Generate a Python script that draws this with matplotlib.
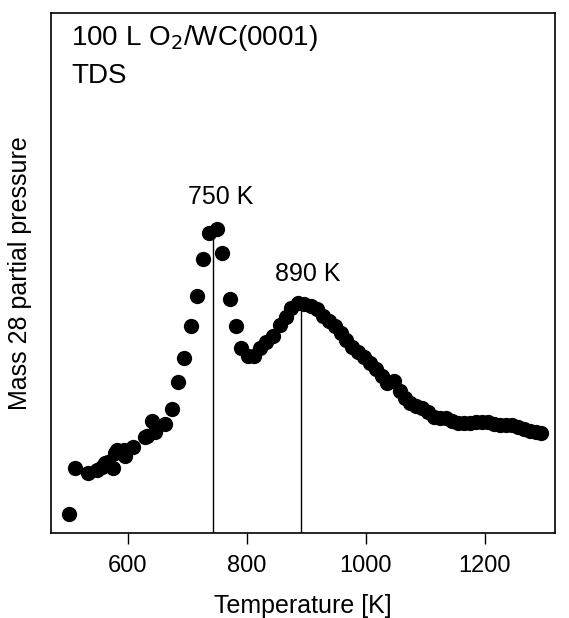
import matplotlib
matplotlib.use("Agg")
import matplotlib.pyplot as plt

plt.rcParams['font.family'] = ['Liberation Sans', 'DejaVu Sans']

# TDS spectrum (temperature in K, signal in arbitrary units)
temperature = [502, 511, 534, 548, 556, 562, 567, 576, 579, 582, 587, 593, 596,
               609, 629, 632, 640, 646, 663, 674, 684, 695, 706, 717, 727, 737,
               750, 759, 771, 782, 791, 802, 812, 822, 833, 844, 856, 866, 875,
               886, 897, 908, 918, 928, 938, 948, 958, 967, 977, 987, 997, 1007,
               1017, 1027, 1036, 1047, 1057, 1066, 1074, 1084, 1094, 1104, 1115,
               1125, 1135, 1145, 1155, 1165, 1175, 1185, 1195, 1205, 1215, 1226,
               1236, 1246, 1256, 1266, 1276, 1286, 1294]
signal = [19, 65, 60, 63, 66, 70, 71, 65, 80, 83, 81, 83, 77,
          86, 96, 97, 112, 101, 109, 124, 151, 175, 207, 237, 274, 300,
          304, 280, 234, 207, 185, 177, 177, 185, 191, 197, 208, 216, 225,
          230, 229, 227, 224, 217, 212, 207, 200, 193, 186, 181, 176, 170,
          164, 157, 150, 152, 142, 135, 130, 127, 125, 121, 116,
          115, 115, 112, 110, 110, 110, 111, 111, 111, 109, 108,
          108, 108, 106, 104, 102, 101, 100]

peak_temp = [743, 891]
peak_top = [300, 229]
peak_labels = ['750 K', '890 K']
label_pos = [(756, 336), (903, 259)]

fig = plt.figure(figsize=(5.69, 6.18), dpi=100)
ax = fig.add_axes([0.0896, 0.1375, 0.8858, 0.8415])

ax.plot(temperature, signal, 'o', color='black', markersize=11, markeredgewidth=0)
ax.vlines(peak_temp, 0, peak_top, color='black', linewidth=1)

for lab, (tx, ty) in zip(peak_labels, label_pos):
    ax.text(tx, ty, lab, fontsize=18, ha='center', va='center')

ax.text(0.040, 0.938, '100 L O$_2$/WC(0001)', transform=ax.transAxes,
        fontsize=20, ha='left', va='baseline')
ax.text(0.040, 0.865, 'TDS', transform=ax.transAxes,
        fontsize=20, ha='left', va='baseline')

ax.set_xlim(471, 1318)
ax.set_ylim(0, 520)
ax.set_xticks([600, 800, 1000, 1200])
ax.set_yticks([])
ax.tick_params(axis='x', direction='out', length=8, width=1, pad=8, labelsize=17)
for sp in ax.spines.values():
    sp.set_linewidth(1.2)

ax.set_xlabel('Temperature [K]', fontsize=18, labelpad=12)
ax.set_ylabel('Mass 28 partial pressure', fontsize=18, labelpad=14)

fig.savefig('out.png', dpi=100)
